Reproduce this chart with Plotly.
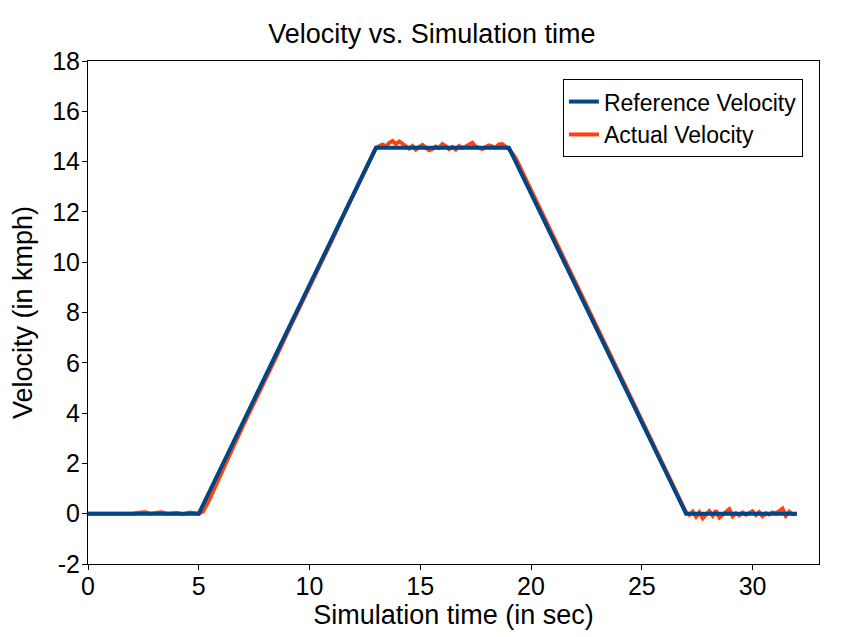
import plotly.graph_objects as go

# Reference velocity profile (kmph) vs time (s)
ref_time = [0, 5, 13, 19, 27, 32]
ref_vel = [0, 0, 14.55, 14.55, 0, 0]

# Actual velocity (kmph) vs time (s)
act_time = [0, 0.5, 1.0, 1.5, 2.0, 2.4, 2.6, 2.8, 3.0, 3.3, 3.6, 4.0, 4.3, 4.6, 5.0,
            5.2, 5.5, 6.0, 6.5, 7.0, 7.5, 8.0, 8.5, 9.0, 9.5, 10.0, 10.5, 11.0, 11.5, 12.0, 12.5, 12.9,
            13.0, 13.15, 13.3, 13.45, 13.6, 13.75, 13.9, 14.05, 14.2, 14.35, 14.5, 14.65, 14.8, 14.95,
            15.1, 15.25, 15.4, 15.55, 15.7, 15.85, 16.0, 16.15, 16.3, 16.45, 16.6, 16.75, 16.9,
            17.05, 17.2, 17.35, 17.5, 17.65, 17.8, 17.95, 18.1, 18.25, 18.4, 18.55, 18.7, 18.85, 19.0,
            19.3, 19.6, 20.0, 20.5, 21.0, 21.5, 22.0, 22.5, 23.0, 23.5, 24.0, 24.5, 25.0, 25.5, 26.0, 26.5, 26.8,
            27.0, 27.15, 27.3, 27.45, 27.6, 27.75, 27.9, 28.05, 28.2, 28.35, 28.5, 28.65, 28.8, 28.95,
            29.1, 29.25, 29.4, 29.55, 29.7, 29.85, 30.0, 30.15, 30.3, 30.45, 30.6, 30.75, 30.9,
            31.05, 31.2, 31.35, 31.5, 31.65, 31.8, 32.0]
act_vel = [0, 0, 0, 0, 0, 0.05, 0.06, 0, 0.04, 0.06, 0, 0.03, -0.02, 0.05, 0,
           0.1, 0.6, 1.6, 2.55, 3.5, 4.4, 5.35, 6.25, 7.2, 8.1, 9.0, 9.95, 10.85, 11.8, 12.7, 13.6, 14.4,
           14.55, 14.62, 14.68, 14.6, 14.75, 14.82, 14.7, 14.8, 14.72, 14.6, 14.52, 14.62, 14.48, 14.58,
           14.66, 14.55, 14.45, 14.5, 14.6, 14.55, 14.7, 14.62, 14.5, 14.58, 14.48, 14.62, 14.55,
           14.6, 14.7, 14.75, 14.6, 14.55, 14.5, 14.58, 14.64, 14.6, 14.55, 14.68, 14.7, 14.6, 14.5,
           14.15, 13.6, 12.9, 12.0, 11.1, 10.15, 9.2, 8.3, 7.4, 6.5, 5.6, 4.65, 3.75, 2.8, 1.9, 0.95, 0.4,
           0.05, -0.05, 0.08, -0.12, 0.05, -0.18, -0.05, 0.1, -0.08, 0.12, -0.15, -0.05, 0.06, 0.18,
           -0.1, 0.02, -0.06, 0.05, -0.04, 0.02, 0.1, -0.05, 0.06, -0.1, 0.02, -0.03, 0.05,
           0.0, 0.12, 0.2, -0.08, 0.08, -0.02, 0.0]

fig = go.Figure()
fig.add_trace(go.Scatter(x=act_time, y=act_vel, mode="lines", name="Actual Velocity",
                         line=dict(color="#ff420e", width=4)))
fig.add_trace(go.Scatter(x=ref_time, y=ref_vel, mode="lines", name="Reference Velocity",
                         line=dict(color="#004586", width=4)))

y_ticks = list(range(-2, 19, 2))
y_ticktext = [str(v) for v in y_ticks]

font_family = "Liberation Sans, Arial, sans-serif"
# page body has an 8px margin, so the figure is sized/offset to fit the 849x637 window
fig.update_layout(
    width=841, height=629,
    margin=dict(l=80, r=30, t=53, b=73, autoexpand=False),
    paper_bgcolor="white", plot_bgcolor="white",
    font=dict(family=font_family, color="black"),
    title=dict(text="Velocity vs. Simulation time", xref="container", x=0.504, xanchor="center",
               yref="container", y=0.960, yanchor="middle", font=dict(size=27, color="black")),
    showlegend=True,
    legend=dict(x=0.978, xanchor="right", y=0.964, yanchor="top",
                bordercolor="black", borderwidth=1, bgcolor="white",
                font=dict(size=23, color="black"), traceorder="reversed",
                itemwidth=30, tracegroupgap=0),
    xaxis=dict(range=[0, 33], tickvals=[0, 5, 10, 15, 20, 25, 30], showgrid=False, zeroline=False,
               showline=True, linecolor="black", linewidth=1, mirror=True, automargin=False,
               ticks="outside", ticklen=5, tickcolor="black", ticklabelstandoff=-5,
               tickfont=dict(size=25),
               title=dict(text="Simulation time (in sec)", font=dict(size=27), standoff=1)),
    yaxis=dict(range=[-2, 18], tickvals=y_ticks, ticktext=y_ticktext, showgrid=False, zeroline=False,
               showline=True, linecolor="black", linewidth=1, mirror=True, automargin=False,
               ticks="outside", ticklen=5, tickcolor="black", ticklabelstandoff=-3,
               tickfont=dict(size=25),
               title=dict(text="Velocity (in kmph)", font=dict(size=27), standoff=11)),
)

fig.write_html("out.html")
